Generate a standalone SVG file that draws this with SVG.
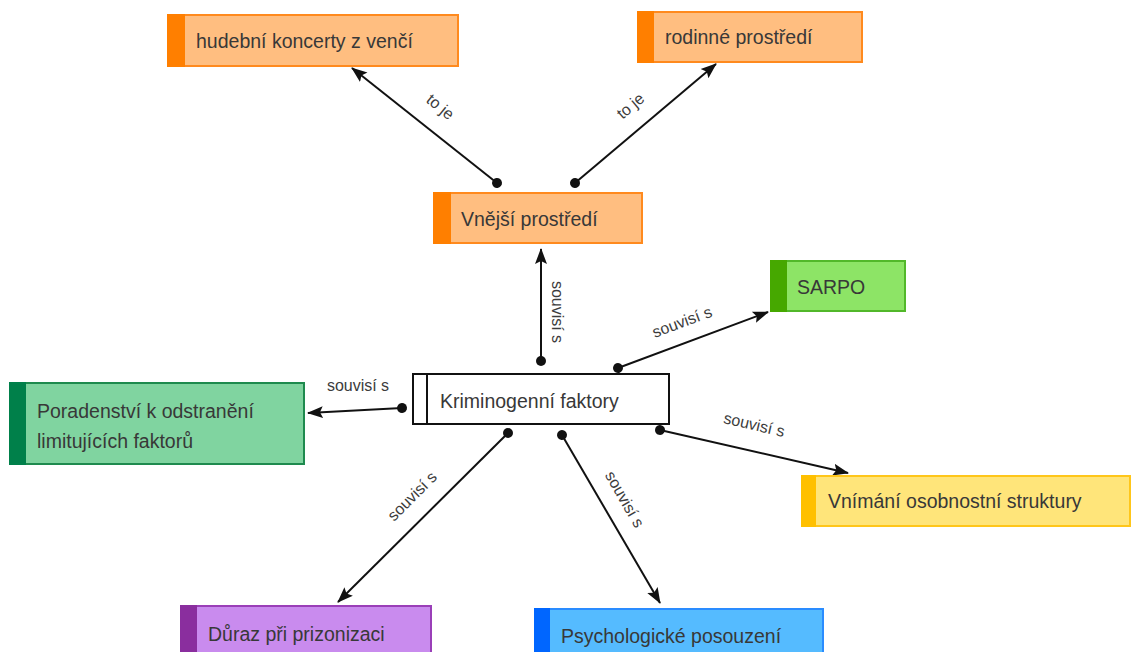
<svg xmlns="http://www.w3.org/2000/svg" width="1131" height="652" viewBox="0 0 1131 652">
<style>
.t{font-family:"Liberation Sans",Arial,sans-serif;font-size:19.5px;fill:#383838}
.l{font-family:"Liberation Sans",Arial,sans-serif;font-size:16px;fill:#3c3c3c}
.c{stroke:#111;stroke-width:2;fill:none;marker-start:url(#dot);marker-end:url(#arr)}
.or{fill:#FFBE80;stroke:#FF8A1E;stroke-width:2}
.orb{fill:#FF7F00}
</style>
<defs>
<marker id="arr" markerUnits="userSpaceOnUse" markerWidth="16" markerHeight="16" viewBox="0 0 16 16" refX="15" refY="8" orient="auto">
<path d="M0,2 L16,8 L0,14 L3,8 Z" fill="#111"/>
</marker>
<marker id="dot" markerUnits="userSpaceOnUse" markerWidth="12" markerHeight="12" viewBox="0 0 12 12" refX="6" refY="6" orient="auto">
<circle cx="6" cy="6" r="5" fill="#111"/>
</marker>
</defs>
<rect width="1131" height="652" fill="#fff"/>
<g id="connectors">
<path class="c" d="M497,183 L352,68"/>
<path class="c" d="M575,183 L716,64"/>
<path class="c" d="M541,361 L541,249"/>
<path class="c" d="M618,368 L768,312"/>
<path class="c" d="M402,408 L308,413"/>
<path class="c" d="M660,430 L848,473"/>
<path class="c" d="M508,433 L338,602"/>
<path class="c" d="M562,435 L660,603"/>
<text class="l" transform="translate(437,111) rotate(38.7)" text-anchor="middle">to je</text>
<text class="l" transform="translate(634,110) rotate(-40.4)" text-anchor="middle">to je</text>
<text class="l" transform="translate(552,312) rotate(90)" text-anchor="middle">souvisí s</text>
<text class="l" transform="translate(684,327) rotate(-20.5)" text-anchor="middle">souvisí s</text>
<text class="l" transform="translate(358,391)" text-anchor="middle">souvisí s</text>
<text class="l" transform="translate(753,430) rotate(13)" text-anchor="middle">souvisí s</text>
<text class="l" transform="translate(416,500) rotate(-45)" text-anchor="middle">souvisí s</text>
<text class="l" transform="translate(620,502) rotate(60)" text-anchor="middle">souvisí s</text>
</g>
<g id="n-hudebni">
<rect class="or" x="168" y="15" width="290" height="51"/>
<rect class="orb" x="167" y="14" width="18" height="53"/>
<text class="t" x="196" y="48">hudební koncerty z venčí</text>
</g>
<g id="n-rodinne">
<rect class="or" x="638" y="12" width="224" height="50"/>
<rect class="orb" x="637" y="11" width="17" height="52"/>
<text class="t" x="665" y="44">rodinné prostředí</text>
</g>
<g id="n-vnejsi">
<rect class="or" x="434" y="193" width="208" height="50"/>
<rect class="orb" x="433" y="192" width="18" height="52"/>
<text class="t" x="461" y="226">Vnější prostředí</text>
</g>
<g id="n-sarpo">
<rect x="771" y="261" width="134" height="50" fill="#8DE466" stroke="#52B82A" stroke-width="2"/>
<rect x="770" y="260" width="17" height="52" fill="#46A800"/>
<text class="t" x="797" y="294">SARPO</text>
</g>
<g id="n-krim">
<rect x="413" y="374" width="256" height="50" fill="#fff" stroke="#111" stroke-width="2"/>
<line x1="427" y1="374" x2="427" y2="424" stroke="#111" stroke-width="2"/>
<text class="t" x="440" y="408">Kriminogenní faktory</text>
</g>
<g id="n-poradenstvi">
<rect x="10" y="383" width="294" height="81" fill="#80D4A0" stroke="#1E8A4E" stroke-width="2"/>
<rect x="9" y="382" width="17" height="83" fill="#00804A"/>
<text class="t" x="37" y="418">Poradenství k odstranění</text>
<text class="t" x="37" y="448">limitujících faktorů</text>
</g>
<g id="n-vnimani">
<rect x="802" y="476" width="328" height="50" fill="#FFE57A" stroke="#FFC61A" stroke-width="2"/>
<rect x="801" y="475" width="15" height="52" fill="#FFC000"/>
<text class="t" x="828" y="508">Vnímání osobnostní struktury</text>
</g>
<g id="n-duraz">
<rect x="181" y="606" width="250" height="50" fill="#C98BEE" stroke="#9A3FB8" stroke-width="2"/>
<rect x="180" y="605" width="17" height="52" fill="#8A2E9E"/>
<text class="t" x="208" y="641">Důraz při prizonizaci</text>
</g>
<g id="n-psych">
<rect x="535" y="609" width="288" height="50" fill="#55BBFF" stroke="#2A8CFF" stroke-width="2"/>
<rect x="534" y="608" width="16" height="52" fill="#0066FF"/>
<text class="t" x="561" y="643">Psychologické posouzení</text>
</g>
</svg>
